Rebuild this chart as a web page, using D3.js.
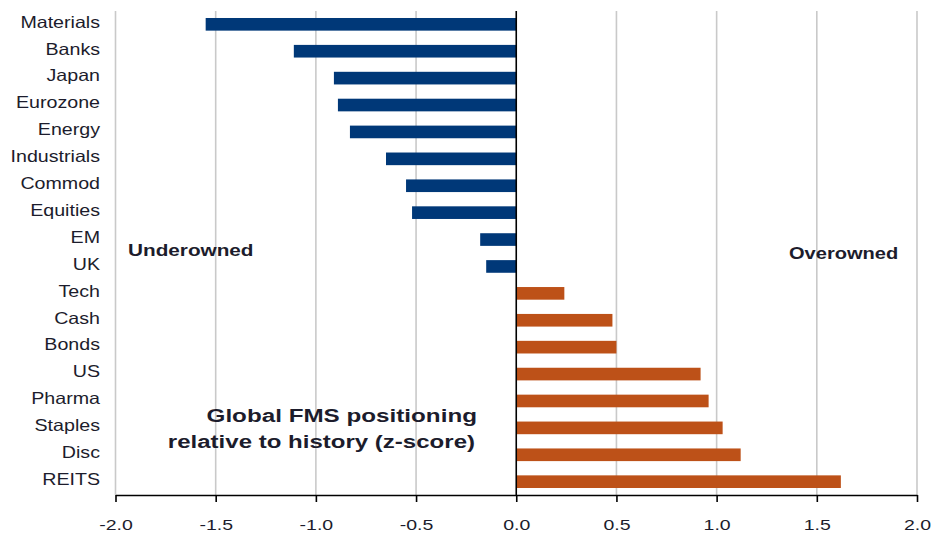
<!DOCTYPE html>
<html>
<head>
<meta charset="utf-8">
<script src="https://cdn.jsdelivr.net/npm/d3@7"></script>
<style>
  html, body { margin: 0; padding: 0; background: #fff; }
  svg { display: block; font-family: "Liberation Sans", Arial, sans-serif; }
</style>
</head>
<body>
<svg id="chart" width="934" height="533"></svg>
<script>
// Global FMS positioning relative to history (z-score)
const categories = ["Materials", "Banks", "Japan", "Eurozone", "Energy", "Industrials",
  "Commod", "Equities", "EM", "UK", "Tech", "Cash", "Bonds", "US", "Pharma",
  "Staples", "Disc", "REITS"];
const zScores = [-1.55, -1.11, -0.91, -0.89, -0.83, -0.65, -0.55, -0.52, -0.18, -0.15,
  0.24, 0.48, 0.50, 0.92, 0.96, 1.03, 1.12, 1.62];
const xTicks = [-2.0, -1.5, -1.0, -0.5, 0.0, 0.5, 1.0, 1.5, 2.0];

(function () {
  const svg = d3.select("#chart");
  const plotLeft = 115.5, plotRight = 917, plotTop = 11, plotBottom = 495;
  const textColor = "#1c1c2c";

  const x = d3.scaleLinear().domain([-2, 2]).range([plotLeft, plotRight]);
  const y = d3.scaleBand().domain(categories).range([plotTop, plotBottom])
    .paddingInner(0.53).paddingOuter(0.26);

  // vertical gridlines
  svg.append("g").selectAll("line").data(xTicks.filter(d => d !== 0)).join("line")
    .attr("x1", d => x(d)).attr("x2", d => x(d))
    .attr("y1", plotTop).attr("y2", plotBottom)
    .attr("stroke", "#c9c9c9").attr("stroke-width", 1.6);

  // bars
  svg.append("g").selectAll("rect").data(categories).join("rect")
    .attr("x", (d, i) => x(Math.min(0, zScores[i])))
    .attr("width", (d, i) => Math.abs(x(zScores[i]) - x(0)))
    .attr("y", d => y(d))
    .attr("height", y.bandwidth())
    .attr("fill", (d, i) => zScores[i] < 0 ? "#003878" : "#bd5118");

  // zero line
  svg.append("line")
    .attr("x1", x(0)).attr("x2", x(0)).attr("y1", plotTop).attr("y2", plotBottom)
    .attr("stroke", "#000").attr("stroke-width", 1.6);

  // bottom axis, plain hyphen for negatives
  const fmt = d3.format(".1f");
  const xAxis = d3.axisBottom(x).tickValues(xTicks)
    .tickFormat(d => fmt(d).replace("\u2212", "-"))
    .tickSizeInner(7).tickSizeOuter(0).tickPadding(17.3);
  const gx = svg.append("g").attr("transform", `translate(0,${plotBottom})`).call(xAxis);
  gx.select(".domain").attr("stroke", "#000").attr("stroke-width", 1.6);
  gx.selectAll(".tick line").attr("stroke", "#000").attr("stroke-width", 1.6);
  gx.selectAll(".tick text").attr("font-size", 15).attr("fill", textColor)
    .attr("font-family", "'Liberation Sans', Arial, sans-serif")
    .attr("transform", "scale(1.3,1)");

  // category labels (wide face)
  svg.append("g").selectAll("text").data(categories).join("text")
    .attr("transform", d => `translate(100,${y(d) + y.bandwidth() / 2}) scale(1.19,1)`)
    .attr("dy", "0.2em")
    .attr("text-anchor", "end")
    .attr("font-size", 16.5)
    .attr("fill", textColor)
    .text(d => d);

  // annotations
  svg.append("text").attr("transform", "translate(128,250) scale(1.22,1)").attr("dy", "0.35em")
    .attr("font-size", 17).attr("font-weight", "bold").attr("fill", textColor)
    .text("Underowned");
  svg.append("text").attr("transform", "translate(789,253) scale(1.18,1)").attr("dy", "0.35em")
    .attr("font-size", 17).attr("font-weight", "bold").attr("fill", textColor)
    .text("Overowned");

  const title = svg.append("g").attr("font-size", 18.5).attr("font-weight", "bold")
    .attr("fill", textColor).attr("text-anchor", "end");
  title.append("text").attr("transform", "translate(477,421.7) scale(1.31,1)")
    .text("Global FMS positioning");
  title.append("text").attr("transform", "translate(475,447.5) scale(1.3,1)")
    .text("relative to history (z-score)");
})();
</script>
</body>
</html>
